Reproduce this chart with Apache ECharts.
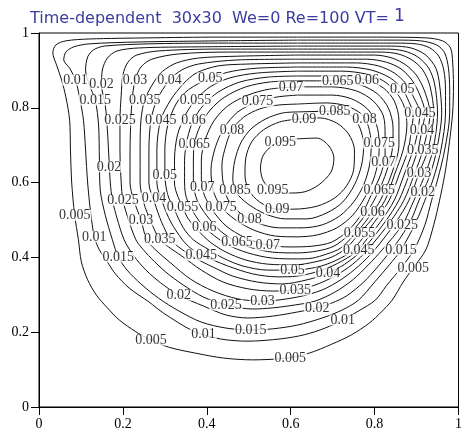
<!DOCTYPE html>
<html>
<head>
<meta charset="utf-8">
<script src="https://cdn.jsdelivr.net/npm/echarts@6/dist/echarts.min.js"></script>
<style>html,body{margin:0;padding:0;background:#fff;}#c{width:465px;height:434px;}</style>
</head>
<body>
<div id="c"></div>
<script>
// Tick values
const xTicks = [0, 0.2, 0.4, 0.6, 0.8, 1];
const yTicks = [0, 0.2, 0.4, 0.6, 0.8, 1];
// Contour levels
const levels = ['0.005','0.01','0.015','0.02','0.025','0.03','0.035','0.04','0.045','0.05','0.055','0.06','0.065','0.07','0.075','0.08','0.085','0.09','0.095'];
// Contour lines (x, y)
const c005 = [[0.616,0.989],[0.804,0.989],[0.922,0.987],[0.962,0.979],[0.981,0.960],[0.986,0.922],[0.988,0.861],[0.986,0.786],[0.976,0.687],[0.967,0.620],[0.955,0.553],[0.941,0.487],[0.922,0.420],[0.892,0.372],[0.868,0.334],[0.842,0.286],[0.816,0.254],[0.788,0.225],[0.745,0.193],[0.698,0.168],[0.644,0.144],[0.592,0.131],[0.509,0.126],[0.439,0.131],[0.373,0.144],[0.309,0.160],[0.262,0.182],[0.231,0.201],[0.191,0.233],[0.163,0.265],[0.137,0.299],[0.116,0.340],[0.101,0.388],[0.094,0.447],[0.085,0.513],[0.078,0.599],[0.075,0.687],[0.073,0.767],[0.064,0.829],[0.054,0.874],[0.042,0.914],[0.033,0.947],[0.040,0.968],[0.064,0.979],[0.120,0.984],[0.262,0.987],[0.427,0.989],[0.616,0.989]];
const c010 = [[0.616,0.981],[0.851,0.981],[0.910,0.979],[0.948,0.968],[0.967,0.947],[0.976,0.906],[0.979,0.848],[0.979,0.786],[0.967,0.687],[0.950,0.607],[0.936,0.553],[0.920,0.487],[0.894,0.420],[0.863,0.372],[0.828,0.324],[0.802,0.286],[0.762,0.257],[0.724,0.233],[0.682,0.211],[0.632,0.193],[0.575,0.182],[0.498,0.176],[0.432,0.182],[0.368,0.203],[0.297,0.251],[0.262,0.281],[0.215,0.318],[0.182,0.356],[0.163,0.388],[0.144,0.420],[0.132,0.455],[0.123,0.521],[0.116,0.599],[0.111,0.687],[0.106,0.767],[0.097,0.826],[0.087,0.874],[0.073,0.906],[0.059,0.928],[0.064,0.949],[0.083,0.963],[0.120,0.971],[0.238,0.976],[0.427,0.979],[0.616,0.981]];
const c015 = [[0.616,0.973],[0.851,0.973],[0.899,0.971],[0.932,0.960],[0.953,0.938],[0.965,0.901],[0.969,0.848],[0.969,0.786],[0.958,0.687],[0.939,0.607],[0.920,0.553],[0.899,0.495],[0.863,0.420],[0.835,0.380],[0.800,0.334],[0.762,0.286],[0.722,0.259],[0.675,0.238],[0.616,0.219],[0.557,0.209],[0.505,0.206],[0.446,0.211],[0.387,0.227],[0.333,0.257],[0.285,0.291],[0.243,0.329],[0.210,0.366],[0.189,0.401],[0.175,0.447],[0.158,0.513],[0.146,0.580],[0.144,0.660],[0.142,0.754],[0.134,0.821],[0.120,0.861],[0.111,0.901],[0.116,0.936],[0.130,0.955],[0.156,0.965],[0.262,0.971],[0.427,0.973],[0.616,0.973]];
const c020 = [[0.616,0.965],[0.840,0.965],[0.887,0.960],[0.922,0.941],[0.946,0.906],[0.955,0.861],[0.960,0.786],[0.948,0.687],[0.932,0.620],[0.915,0.575],[0.906,0.553],[0.887,0.500],[0.863,0.455],[0.840,0.420],[0.809,0.377],[0.774,0.334],[0.733,0.297],[0.698,0.278],[0.663,0.265],[0.616,0.254],[0.557,0.243],[0.498,0.238],[0.446,0.246],[0.392,0.270],[0.333,0.299],[0.290,0.332],[0.255,0.366],[0.226,0.404],[0.203,0.447],[0.186,0.505],[0.175,0.553],[0.170,0.599],[0.167,0.660],[0.163,0.741],[0.158,0.807],[0.149,0.861],[0.151,0.901],[0.163,0.933],[0.186,0.952],[0.238,0.960],[0.380,0.963],[0.616,0.965]];
const c025 = [[0.616,0.957],[0.828,0.957],[0.870,0.952],[0.903,0.936],[0.929,0.906],[0.943,0.864],[0.950,0.786],[0.939,0.687],[0.917,0.612],[0.894,0.553],[0.866,0.487],[0.818,0.420],[0.785,0.380],[0.748,0.340],[0.705,0.307],[0.658,0.283],[0.611,0.273],[0.557,0.265],[0.509,0.262],[0.446,0.273],[0.392,0.294],[0.344,0.326],[0.302,0.361],[0.267,0.398],[0.243,0.428],[0.231,0.447],[0.215,0.495],[0.200,0.553],[0.196,0.599],[0.193,0.687],[0.193,0.767],[0.196,0.834],[0.200,0.888],[0.212,0.922],[0.233,0.941],[0.285,0.952],[0.427,0.957],[0.616,0.957]];
const c030 = [[0.616,0.949],[0.816,0.949],[0.856,0.944],[0.889,0.928],[0.915,0.901],[0.932,0.858],[0.941,0.786],[0.927,0.687],[0.906,0.626],[0.882,0.553],[0.851,0.495],[0.800,0.420],[0.762,0.377],[0.722,0.342],[0.675,0.313],[0.616,0.294],[0.533,0.283],[0.474,0.289],[0.415,0.310],[0.361,0.342],[0.314,0.385],[0.278,0.420],[0.257,0.447],[0.243,0.500],[0.226,0.553],[0.217,0.599],[0.217,0.687],[0.219,0.767],[0.222,0.821],[0.229,0.874],[0.243,0.909],[0.269,0.930],[0.333,0.944],[0.450,0.949],[0.616,0.949]];
const c035 = [[0.616,0.941],[0.800,0.941],[0.842,0.933],[0.875,0.914],[0.901,0.885],[0.920,0.842],[0.932,0.786],[0.915,0.687],[0.894,0.620],[0.870,0.553],[0.837,0.495],[0.783,0.420],[0.748,0.382],[0.705,0.350],[0.658,0.326],[0.611,0.313],[0.557,0.310],[0.498,0.316],[0.439,0.334],[0.387,0.366],[0.340,0.404],[0.309,0.428],[0.288,0.447],[0.267,0.495],[0.250,0.545],[0.241,0.599],[0.241,0.687],[0.243,0.767],[0.252,0.821],[0.274,0.869],[0.295,0.898],[0.328,0.920],[0.380,0.933],[0.474,0.938],[0.616,0.941]];
const c040 = [[0.616,0.930],[0.781,0.930],[0.828,0.922],[0.863,0.904],[0.889,0.874],[0.908,0.834],[0.920,0.786],[0.913,0.741],[0.903,0.687],[0.882,0.620],[0.858,0.553],[0.825,0.495],[0.771,0.420],[0.729,0.382],[0.689,0.358],[0.639,0.340],[0.580,0.329],[0.521,0.334],[0.462,0.350],[0.415,0.374],[0.373,0.398],[0.340,0.422],[0.314,0.447],[0.292,0.495],[0.276,0.545],[0.262,0.599],[0.262,0.687],[0.267,0.767],[0.281,0.821],[0.311,0.874],[0.340,0.901],[0.380,0.917],[0.474,0.928],[0.616,0.930]];
const c045 = [[0.616,0.920],[0.757,0.920],[0.809,0.912],[0.847,0.893],[0.875,0.864],[0.894,0.826],[0.908,0.786],[0.901,0.727],[0.892,0.687],[0.870,0.620],[0.847,0.553],[0.814,0.495],[0.776,0.441],[0.762,0.420],[0.722,0.390],[0.675,0.366],[0.616,0.350],[0.568,0.348],[0.509,0.356],[0.450,0.377],[0.415,0.393],[0.387,0.406],[0.361,0.425],[0.342,0.447],[0.314,0.495],[0.295,0.545],[0.281,0.599],[0.281,0.687],[0.290,0.767],[0.314,0.821],[0.344,0.864],[0.375,0.893],[0.427,0.912],[0.498,0.917],[0.616,0.920]];
const c050 = [[0.616,0.909],[0.733,0.909],[0.792,0.901],[0.837,0.880],[0.866,0.850],[0.882,0.816],[0.892,0.781],[0.887,0.735],[0.880,0.687],[0.858,0.620],[0.835,0.553],[0.800,0.495],[0.748,0.420],[0.710,0.393],[0.663,0.374],[0.604,0.366],[0.545,0.366],[0.486,0.377],[0.439,0.398],[0.403,0.422],[0.368,0.447],[0.344,0.479],[0.323,0.527],[0.307,0.567],[0.300,0.620],[0.300,0.687],[0.307,0.754],[0.328,0.813],[0.356,0.848],[0.408,0.880],[0.462,0.898],[0.521,0.906],[0.616,0.909]];
const c055 = [[0.616,0.898],[0.722,0.898],[0.781,0.890],[0.821,0.872],[0.851,0.842],[0.870,0.805],[0.877,0.754],[0.868,0.687],[0.847,0.620],[0.825,0.553],[0.792,0.500],[0.764,0.465],[0.733,0.425],[0.698,0.401],[0.658,0.388],[0.611,0.380],[0.545,0.382],[0.493,0.393],[0.446,0.414],[0.408,0.441],[0.380,0.471],[0.356,0.503],[0.342,0.535],[0.328,0.572],[0.323,0.599],[0.323,0.660],[0.330,0.727],[0.349,0.781],[0.373,0.821],[0.408,0.856],[0.455,0.880],[0.521,0.893],[0.616,0.898]];
const c060 = [[0.616,0.885],[0.722,0.885],[0.781,0.874],[0.821,0.853],[0.847,0.818],[0.858,0.767],[0.858,0.701],[0.842,0.628],[0.814,0.553],[0.795,0.521],[0.762,0.473],[0.719,0.425],[0.686,0.409],[0.651,0.398],[0.616,0.396],[0.557,0.398],[0.498,0.412],[0.446,0.436],[0.394,0.481],[0.368,0.521],[0.351,0.561],[0.347,0.599],[0.347,0.660],[0.354,0.719],[0.368,0.767],[0.392,0.807],[0.427,0.842],[0.479,0.869],[0.545,0.882],[0.616,0.885]];
const c065 = [[0.616,0.872],[0.712,0.872],[0.767,0.861],[0.807,0.837],[0.833,0.799],[0.844,0.746],[0.842,0.687],[0.828,0.628],[0.811,0.580],[0.795,0.545],[0.769,0.500],[0.738,0.460],[0.703,0.430],[0.663,0.417],[0.616,0.412],[0.557,0.414],[0.509,0.425],[0.472,0.441],[0.432,0.471],[0.399,0.513],[0.377,0.553],[0.368,0.599],[0.368,0.647],[0.370,0.701],[0.384,0.751],[0.408,0.794],[0.443,0.829],[0.493,0.856],[0.550,0.869],[0.616,0.872]];
const c070 = [[0.616,0.856],[0.698,0.856],[0.757,0.845],[0.797,0.818],[0.821,0.778],[0.825,0.727],[0.825,0.674],[0.814,0.620],[0.792,0.567],[0.771,0.519],[0.738,0.473],[0.698,0.441],[0.651,0.430],[0.597,0.428],[0.545,0.433],[0.493,0.452],[0.446,0.484],[0.413,0.527],[0.394,0.567],[0.387,0.607],[0.387,0.660],[0.396,0.714],[0.417,0.765],[0.450,0.805],[0.498,0.834],[0.550,0.850],[0.616,0.856]];
const c075 = [[0.616,0.834],[0.698,0.834],[0.745,0.824],[0.783,0.797],[0.804,0.757],[0.811,0.706],[0.809,0.660],[0.797,0.607],[0.776,0.559],[0.748,0.513],[0.710,0.479],[0.663,0.460],[0.616,0.455],[0.564,0.457],[0.512,0.473],[0.469,0.500],[0.434,0.535],[0.415,0.580],[0.410,0.634],[0.420,0.693],[0.441,0.746],[0.474,0.789],[0.521,0.816],[0.568,0.829],[0.616,0.834]];
const c080 = [[0.616,0.810],[0.686,0.813],[0.733,0.805],[0.769,0.783],[0.785,0.751],[0.792,0.701],[0.788,0.647],[0.774,0.594],[0.750,0.548],[0.717,0.511],[0.675,0.487],[0.627,0.479],[0.573,0.479],[0.521,0.492],[0.479,0.519],[0.450,0.556],[0.439,0.599],[0.436,0.647],[0.446,0.701],[0.460,0.741],[0.488,0.775],[0.526,0.797],[0.568,0.807],[0.616,0.810]];
const c085 = [[0.616,0.789],[0.705,0.791],[0.745,0.778],[0.764,0.749],[0.774,0.701],[0.769,0.647],[0.752,0.594],[0.724,0.548],[0.686,0.519],[0.639,0.503],[0.587,0.503],[0.540,0.516],[0.498,0.543],[0.469,0.575],[0.462,0.612],[0.467,0.660],[0.481,0.706],[0.505,0.743],[0.540,0.770],[0.580,0.786],[0.616,0.789]];
const c090 = [[0.616,0.770],[0.670,0.773],[0.710,0.759],[0.738,0.730],[0.752,0.687],[0.750,0.634],[0.733,0.591],[0.705,0.559],[0.663,0.537],[0.608,0.529],[0.568,0.529],[0.526,0.548],[0.500,0.580],[0.491,0.620],[0.493,0.666],[0.507,0.709],[0.535,0.741],[0.573,0.762],[0.616,0.770]];
const c095 = [[0.616,0.717],[0.663,0.719],[0.691,0.698],[0.703,0.666],[0.696,0.628],[0.667,0.594],[0.632,0.575],[0.592,0.572],[0.557,0.580],[0.535,0.604],[0.528,0.639],[0.535,0.674],[0.559,0.701],[0.592,0.714],[0.616,0.717]];
const contourLines = [c005,c010,c015,c020,c025,c030,c035,c040,c045,c050,c055,c060,c065,c070,c075,c080,c085,c090,c095];
// Contour labels: [x, y, text]
const contourLabels = [
 [0.087,0.874,'0.01'],[0.149,0.864,'0.02'],[0.229,0.874,'0.03'],[0.311,0.874,'0.04'],[0.408,0.880,'0.05'],
 [0.134,0.821,'0.015'],[0.252,0.821,'0.035'],[0.373,0.821,'0.055'],
 [0.193,0.767,'0.025'],[0.290,0.767,'0.045'],[0.368,0.767,'0.06'],
 [0.370,0.701,'0.065'],[0.460,0.741,'0.08'],[0.521,0.816,'0.075'],[0.601,0.856,'0.07'],
 [0.712,0.872,'0.065'],[0.781,0.874,'0.06'],[0.866,0.850,'0.05'],[0.705,0.791,'0.085'],
 [0.632,0.770,'0.09'],[0.776,0.770,'0.08'],[0.575,0.709,'0.095'],[0.811,0.706,'0.075'],
 [0.908,0.786,'0.045'],[0.913,0.741,'0.04'],[0.915,0.687,'0.035'],[0.821,0.655,'0.07'],
 [0.906,0.626,'0.03'],[0.915,0.575,'0.02'],[0.811,0.580,'0.065'],[0.795,0.521,'0.06'],
 [0.866,0.487,'0.025'],[0.764,0.465,'0.055'],[0.863,0.420,'0.015'],[0.762,0.420,'0.045'],[0.892,0.372,'0.005'],
 [0.167,0.642,'0.02'],[0.300,0.620,'0.05'],[0.389,0.588,'0.07'],[0.467,0.580,'0.085'],
 [0.200,0.553,'0.025'],[0.274,0.559,'0.04'],[0.085,0.513,'0.005'],[0.243,0.500,'0.03'],
 [0.342,0.535,'0.055'],[0.434,0.535,'0.075'],[0.394,0.481,'0.06'],[0.132,0.455,'0.01'],
 [0.288,0.447,'0.035'],[0.472,0.441,'0.065'],[0.387,0.406,'0.045'],[0.189,0.401,'0.015'],
 [0.502,0.503,'0.08'],[0.545,0.433,'0.07'],[0.568,0.529,'0.09'],[0.557,0.580,'0.095'],
 [0.604,0.366,'0.05'],[0.689,0.358,'0.04'],[0.611,0.313,'0.035'],[0.533,0.283,'0.03'],
 [0.663,0.265,'0.02'],[0.446,0.273,'0.025'],[0.505,0.206,'0.015'],[0.724,0.233,'0.01'],
 [0.392,0.195,'0.01'],[0.333,0.299,'0.02'],[0.267,0.179,'0.005'],[0.599,0.131,'0.005']
];
const titleText = 'Time-dependent  30x30  We=0 Re=100 VT= ';
const titleValue = '1';

const chart = echarts.init(document.getElementById('c'), null, {renderer: 'canvas'});
const series = contourLines.map((d, i) => ({
  name: levels[i], type: 'line', data: d, showSymbol: false, symbol: 'none',
  smooth: 0.3, silent: true, animation: false, z: 2,
  lineStyle: {color: '#111', width: 1}
}));
series.push({
  type: 'scatter', data: contourLabels, symbolSize: 2, z: 5, silent: true, animation: false,
  itemStyle: {color: 'rgba(255,255,255,0)'},
  label: {show: true, position: 'inside', formatter: p => p.value[2],
    fontFamily: 'Liberation Serif', fontSize: 14, color: '#000',
    backgroundColor: '#fff', padding: [0, 1, 0, 1], lineHeight: 11}
});
chart.setOption({
  animation: false,
  backgroundColor: '#fff',
  title: {
    text: '{a|' + titleText + '}{b|' + titleValue + '}', left: 30, top: 8, padding: 0,
    textStyle: {fontWeight: 'normal', rich: {
      a: {fontFamily: 'DejaVu Sans', fontSize: 16, fontWeight: 'normal', color: '#3c3ca0'},
      b: {fontFamily: 'DejaVu Sans', fontSize: 17, fontWeight: 'normal', color: '#3c3ca0', padding: [0, 0, 5, 0]}
    }}
  },
  grid: {left: 39, right: 2, top: 33, bottom: 27, show: true, borderColor: '#000', borderWidth: 1},
  xAxis: {
    type: 'value', min: xTicks[0], max: xTicks[xTicks.length - 1], interval: 0.2,
    axisLine: {show: true, lineStyle: {color: '#000', width: 1}},
    axisTick: {show: true, inside: false, length: 8, lineStyle: {color: '#000'}},
    axisLabel: {margin: 10, fontFamily: 'Liberation Serif', fontSize: 14, color: '#000'},
    splitLine: {show: false}
  },
  yAxis: {
    type: 'value', min: yTicks[0], max: yTicks[yTicks.length - 1], interval: 0.2,
    axisLine: {show: true, lineStyle: {color: '#000', width: 1}},
    axisTick: {show: true, inside: false, length: 8, lineStyle: {color: '#000'}},
    axisLabel: {margin: 10, fontFamily: 'Liberation Serif', fontSize: 14, color: '#000'},
    splitLine: {show: false}
  },
  series: series
});
</script>
</body>
</html>
